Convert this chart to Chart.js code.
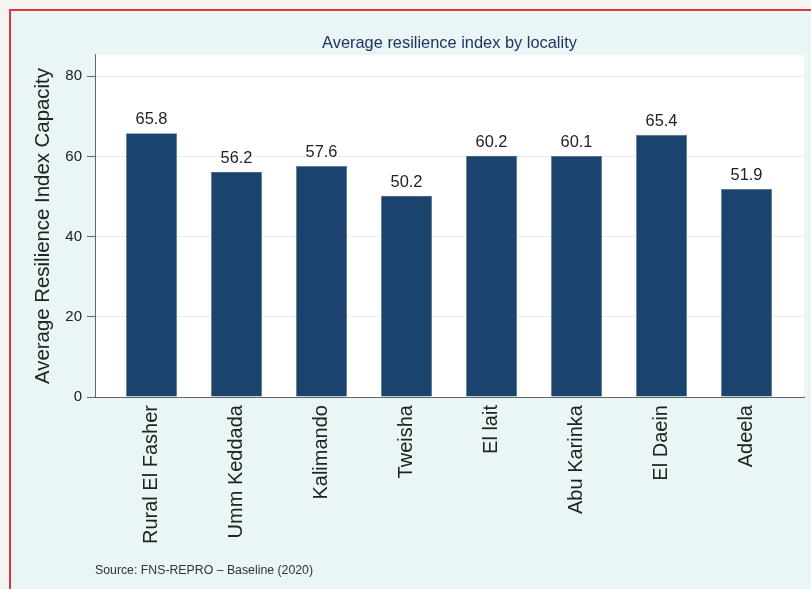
<!DOCTYPE html>
<html>
<head>
<meta charset="utf-8">
<script src="https://cdn.jsdelivr.net/npm/chart.js@4.4.1/dist/chart.umd.min.js"></script>
<style>
  html, body { margin: 0; padding: 0; background: #f5f4f0; overflow: hidden; }
  #frame {
    position: absolute; left: 9px; top: 9px; width: 830px; height: 620px;
    border: 2px solid #e0353b; background: #eaf5f5;
  }
  #wrap { position: absolute; left: 0; top: 0; width: 811px; height: 589px; }
</style>
</head>
<body>
<div id="frame"></div>
<div id="wrap"><canvas id="myChart"></canvas></div>
<script>
// data
const localities = ['Rural El Fasher', 'Umm Keddada', 'Kalimando', 'Tweisha', 'El lait', 'Abu Karinka', 'El Daein', 'Adeela'];
const resilience = [65.8, 56.2, 57.6, 50.2, 60.2, 60.1, 65.4, 51.9];
const yTicks = [0, 20, 40, 60, 80];

const FONT = 'Liberation Sans, Arial, Helvetica, sans-serif';

// 白い描画領域
const plotBg = {
  id: 'plotBg',
  beforeDraw(chart) {
    const a = chart.chartArea;
    chart.ctx.save();
    chart.ctx.fillStyle = '#ffffff';
    chart.ctx.fillRect(a.left, a.top, a.right - a.left, a.bottom - a.top);
    chart.ctx.restore();
  }
};

// バーの上の数値
const valueLabels = {
  id: 'valueLabels',
  afterDatasetsDraw(chart) {
    const ctx = chart.ctx;
    ctx.save();
    ctx.fillStyle = '#222222';
    ctx.font = '16.4px ' + FONT;
    ctx.textAlign = 'center';
    ctx.textBaseline = 'alphabetic';
    chart.getDatasetMeta(0).data.forEach(function (bar, i) {
      ctx.fillText(resilience[i].toFixed(1), bar.x, bar.y - 9);
    });
    ctx.restore();
  }
};

new Chart(document.getElementById('myChart'), {
  type: 'bar',
  data: {
    datasets: [{
      data: resilience.map((v, i) => ({ x: i, y: v })),
      backgroundColor: '#1a446d',
      borderColor: '#4d6d8e',
      borderWidth: 0.6,
      categoryPercentage: 1,
      barPercentage: 0.6
    }]
  },
  options: {
    responsive: true,
    maintainAspectRatio: false,
    animation: false,
    layout: { padding: { left: 10, right: 7, top: 0, bottom: 0 } },
    plugins: {
      legend: { display: false },
      tooltip: { enabled: false },
      title: {
        display: true,
        text: 'Average resilience index by locality',
        color: '#1f3561',
        fullSize: false,
        font: { family: FONT, size: 16.4, weight: 'normal' },
        padding: { top: 33.2, bottom: 2.1 }
      },
      subtitle: {
        display: true,
        text: 'Source: FNS-REPRO \u2013 Baseline (2020)',
        position: 'bottom',
        align: 'start',
        fullSize: false,
        color: '#333333',
        font: { family: FONT, size: 12.3, weight: 'normal' },
        padding: { top: 5, bottom: 10.6 }
      }
    },
    scales: {
      x: {
        type: 'linear',
        offset: false,
        min: -0.665,
        max: 7.676,
        grid: { display: false, drawTicks: false },
        border: { display: true, color: '#666666', width: 1 },
        afterBuildTicks: function (s) { s.ticks = localities.map((c, i) => ({ value: i })); },
        afterFit: function (s) { s.height = 161.6; },
        ticks: {
          autoSkip: false,
          minRotation: 90,
          maxRotation: 90,
          padding: 8,
          color: '#222222',
          font: { family: FONT, size: 20 },
          callback: function (v) { return localities[v]; }
        }
      },
      y: {
        min: 0,
        max: 85.3,
        afterBuildTicks: function (s) { s.ticks = yTicks.map(v => ({ value: v })); },
        afterFit: function (s) { s.width = 85; },
        grid: {
          color: function (c) { return c.tick && c.tick.value === 0 ? 'rgba(0,0,0,0)' : '#e3eff1'; },
          tickColor: '#666666',
          tickLength: 8,
          drawTicks: true
        },
        border: { display: true, color: '#666666', width: 1 },
        ticks: {
          padding: 5,
          color: '#222222',
          font: { family: FONT, size: 15 }
        },
        title: {
          display: true,
          text: 'Average Resilience Index Capacity',
          color: '#222222',
          font: { family: FONT, size: 20.4 },
          padding: { top: 20.8, bottom: 0 }
        }
      }
    }
  },
  plugins: [plotBg, valueLabels]
});
</script>
</body>
</html>
